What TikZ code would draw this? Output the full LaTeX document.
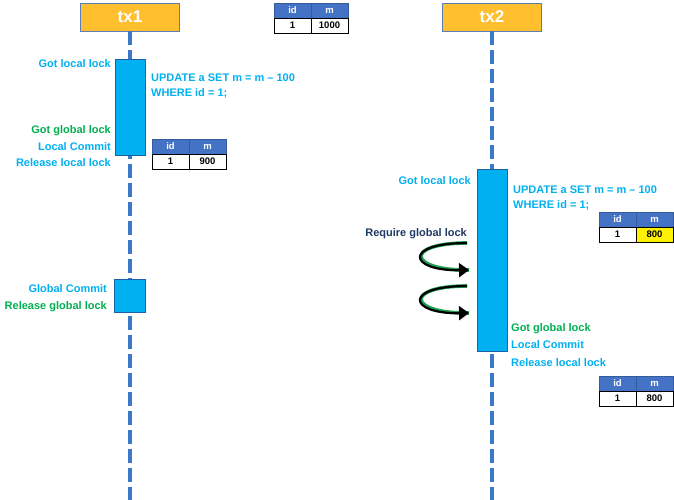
\documentclass[tikz,border=0pt]{standalone}
\usepackage{fontspec}
\setmainfont{Liberation Sans}
\usetikzlibrary{arrows.meta}

\definecolor{txorange}{HTML}{FFBF2F}
\definecolor{txedge}{HTML}{5B7DB8}
\definecolor{lifeblue}{HTML}{3B78C8}
\definecolor{actcyan}{HTML}{00B0F0}
\definecolor{actedge}{HTML}{1F5FA8}
\definecolor{okgreen}{HTML}{00B050}
\definecolor{navy}{HTML}{1F3864}
\definecolor{hdrblue}{HTML}{4472C4}
\definecolor{glowgreen}{HTML}{1FA050}

\begin{document}
\begin{tikzpicture}[x=1pt, y=-1pt,
  actor/.style={draw=txedge, fill=txorange, minimum width=99pt, minimum height=28pt,
                text=white, font=\bfseries\fontsize{17}{17}\selectfont},
  lifeline/.style={draw=lifeblue, line width=4.5pt, dash pattern=on 14pt off 5pt},
  activation/.style={draw=actedge, fill=actcyan, minimum width=30pt, inner sep=0pt},
  note/.style={inner sep=0pt, font=\bfseries\fontsize{11}{15}\selectfont},
  hdr/.style={draw=hdrblue!80!black, fill=hdrblue, text=white, minimum width=37pt,
              minimum height=15pt, inner sep=0pt, font=\bfseries\fontsize{9.5}{9.5}\selectfont},
  cell/.style={draw=black, line width=0.8pt, minimum width=37pt, minimum height=15pt,
               inner sep=0pt, font=\bfseries\fontsize{9.5}{9.5}\selectfont},
  curl/.style={-{Triangle[length=10pt,width=14pt]}, line width=2.2pt, black,
               preaction={draw=glowgreen, line width=3.6pt, -}}
]
\useasboundingbox (0,0) rectangle (674,500);

% transactions and lifelines
\node[actor] (tx1) at (130,17) {tx1};
\node[actor] (tx2) at (492,17) {tx2};
\coordinate (end1) at (130,500);
\coordinate (end2) at (492,500);
\draw[lifeline] (tx1.south) -- (end1);
\draw[lifeline] (tx2.south) -- (end2);

% activation boxes
\node[activation, minimum height=96pt] (act1) at (130,107) {};
\node[activation, minimum height=33pt, minimum width=31pt] (gcommit) at (130,295.5) {};
\node[activation, minimum height=182pt] (act2) at (492,260) {};

% tx1 notes
\node[note, text=actcyan, anchor=base east] (lock1) at (111,68) {Got local lock};
\node[note, text=actcyan, anchor=base west, align=left] (sql1) at (151,97)
  {UPDATE a SET m = m -- 100\\WHERE id = 1;};
\node[note, text=okgreen, anchor=base east] (glock1) at (111,133) {Got global lock};
\node[note, text=actcyan, anchor=base east] (commit1) at (111,150) {Local Commit};
\node[note, text=actcyan, anchor=base east] (release1) at (111,166) {Release local lock};
\node[note, text=actcyan, anchor=base east] (gc1) at (107,292) {Global Commit};
\node[note, text=okgreen, anchor=base east] (grelease1) at (107,309) {Release global lock};

% tx2 notes
\node[note, text=actcyan, anchor=base east] (lock2) at (471,184) {Got local lock};
\node[note, text=actcyan, anchor=base west, align=left] (sql2) at (513,208)
  {UPDATE a SET m = m -- 100\\WHERE id = 1;};
\node[note, text=navy, anchor=base east] (require2) at (467,236) {Require global lock};
\node[note, text=okgreen, anchor=base west] (glock2) at (511,331) {Got global lock};
\node[note, text=actcyan, anchor=base west] (commit2) at (511,348) {Local Commit};
\node[note, text=actcyan, anchor=base west] (release2) at (511,366) {Release local lock};

% waiting for the global lock
\coordinate (w1s) at (467,243);
\coordinate (w1e) at (469,270);
\coordinate (w2s) at (467,286);
\coordinate (w2e) at (469,313);
\draw[curl] (w1s) .. controls (403,243) and (408,271) .. (w1e);
\draw[curl] (w2s) .. controls (403,286) and (408,314) .. (w2e);

% data tables
\foreach \t/\x/\y/\v/\c in {a/274/3/1000/white, b/152/139/900/white,
                            c/599/212/800/yellow, d/599/376/800/white}{
  \node[hdr] (\t id) at (\x+18.5,\y+7.5) {id};
  \node[hdr] (\t m) at (\x+55.5,\y+7.5) {m};
  \node[cell] (\t one) at (\x+18.5,\y+22.5) {1};
  \node[cell, fill=\c] (\t val) at (\x+55.5,\y+22.5) {\v};
}
\end{tikzpicture}
\end{document}
